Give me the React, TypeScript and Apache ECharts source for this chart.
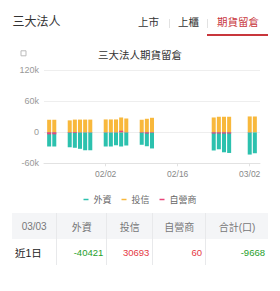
import React, { useEffect, useRef } from "react";
import * as echarts from "echarts";

// ---- data ----
const tradeDates = [
  "01/22", "01/23",
  "01/26", "01/27", "01/28", "01/29", "01/30",
  "02/02", "02/03", "02/04", "02/05", "02/06",
  "02/09", "02/10", "02/11",
  "02/23", "02/24", "02/25", "02/26",
  "03/02", "03/03",
];
const foreign = [
  -27500, -27500,
  -29000, -30000, -32000, -34800, -34800,
  -27500, -27500, -25100, -27500, -25500,
  -24200, -27000, -31300,
  -35200, -32900, -38700, -40000,
  -43100, -40421,
];
const trust = [
  24200, 24200,
  23000, 24500, 24500, 24500, 24500,
  24800, 24800, 24800, 28600, 26700,
  24200, 26100, 28000,
  28600, 30000, 30000, 30000,
  30600, 30693,
];
const dealer = [
  -4000, -4000,
  -1000, -1500, -500, 400, -500,
  -500, 400, -500, 3000, -500,
  -1000, -2500, -1000,
  -2500, -2500, -2500, -2500,
  -500, 60,
];
const seriesNames = ["外資", "投信", "自營商"];
const seriesColors = ["#2cc1ae", "#f8b83c", "#e8457a"];
const axisStart = "2026-01-21";
const axisEnd = "2026-03-04";
const tickLabels = ["02/02", "02/16", "03/02"];
const yTicks = { min: -60000, max: 120000, interval: 60000 };

const tableDate = "03/03";
const tableHeaders = ["外資", "投信", "自營商", "合計(口)"];
const tableRowLabel = "近1日";
const tableValues = [-40421, 30693, 60, -9668];

const FONT = '"Liberation Sans", "Noto Sans CJK TC", sans-serif';

function buildCalendar(start: string, end: string): string[] {
  const out: string[] = [];
  const d = new Date(start + "T00:00:00Z");
  const e = new Date(end + "T00:00:00Z");
  while (d.getTime() <= e.getTime()) {
    const mm = String(d.getUTCMonth() + 1).padStart(2, "0");
    const dd = String(d.getUTCDate()).padStart(2, "0");
    out.push(`${mm}/${dd}`);
    d.setUTCDate(d.getUTCDate() + 1);
  }
  return out;
}

function Chart() {
  const ref = useRef<HTMLDivElement>(null);
  useEffect(() => {
    if (!ref.current) return;
    const chart = echarts.init(ref.current, undefined, { renderer: "svg" });
    const calendar = buildCalendar(axisStart, axisEnd);
    const toSeries = (vals: number[]) =>
      calendar.map((c) => {
        const i = tradeDates.indexOf(c);
        return i >= 0 ? vals[i] : null;
      });
    const showTick = (_i: number, v: string) => tickLabels.includes(v);
    chart.setOption({
      animation: false,
      textStyle: { fontFamily: FONT },
      title: {
        text: "三大法人期貨留倉",
        left: "center",
        top: 5,
        textStyle: { fontSize: 10.5, fontWeight: "normal", color: "#333", fontFamily: FONT },
      },
      legend: {
        data: seriesNames,
        top: 150,
        left: "center",
        icon: "rect",
        itemWidth: 5,
        itemHeight: 1.5,
        itemGap: 10,
        textStyle: { fontSize: 9, color: "#666", fontFamily: FONT },
      },
      grid: { left: 44, right: 20, top: 30.2, height: 93.1 },
      xAxis: {
        type: "category",
        data: calendar,
        boundaryGap: false,
        axisLine: { onZero: false, lineStyle: { color: "#e2e2e2" } },
        axisTick: { interval: showTick, length: 3, lineStyle: { color: "#e2e2e2" } },
        axisLabel: { interval: showTick, color: "#888", fontSize: 8.5, margin: 6, fontFamily: FONT },
      },
      yAxis: {
        type: "value",
        min: yTicks.min,
        max: yTicks.max,
        interval: yTicks.interval,
        axisLabel: {
          color: "#999",
          fontSize: 9,
          margin: 5,
          fontFamily: FONT,
          formatter: (v: number) => (v === 0 ? "0" : `${v / 1000}k`),
        },
        splitLine: { lineStyle: { color: "#eeeeee" } },
      },
      graphic: [
        {
          type: "rect",
          left: 20.5,
          top: 10.3,
          shape: { width: 5, height: 5 },
          style: { fill: "#fff", stroke: "#bbb", lineWidth: 1 },
        },
      ],
      series: [foreign, trust, dealer].map((vals, k) => ({
        name: seriesNames[k],
        type: "bar",
        data: toSeries(vals),
        barWidth: 4,
        barGap: "-100%",
        itemStyle: { color: seriesColors[k] },
      })),
    });
    return () => chart.dispose();
  }, []);
  return <div ref={ref} style={{ position: "absolute", left: 0, top: 40, width: 280, height: 170 }} />;
}

const colEdges = [12, 57.3, 107.3, 153.3, 206, 268];
const green = "#25a02a";
const red = "#e5383f";

export default function App() {
  const cellStyle = (i: number, top: number, h: number): React.CSSProperties => ({
    position: "absolute",
    left: colEdges[i],
    top,
    width: colEdges[i + 1] - colEdges[i],
    height: h,
    boxSizing: "border-box",
    borderRight: i < 4 ? "1px solid #e8e9eb" : "none",
    display: "flex",
    alignItems: "center",
  });
  return (
    <div
      style={{
        position: "absolute",
        left: 0,
        top: 0,
        width: 280,
        height: 291,
        background: "#fff",
        fontFamily: FONT,
        overflow: "hidden",
      }}
    >
      {/* header */}
      <div style={{ position: "absolute", left: 12.5, top: 15, fontSize: 12, lineHeight: "15px", color: "#333" }}>三大法人</div>
      <div style={{ position: "absolute", left: 138, top: 16, fontSize: 10.5, lineHeight: "13px", color: "#333" }}>上市</div>
      <div style={{ position: "absolute", left: 168.5, top: 18.5, width: 1, height: 9, background: "#e2e2e2" }} />
      <div style={{ position: "absolute", left: 178, top: 16, fontSize: 10.5, lineHeight: "13px", color: "#333" }}>上櫃</div>
      <div style={{ position: "absolute", left: 207, top: 18.5, width: 1, height: 9, background: "#e2e2e2" }} />
      <div style={{ position: "absolute", left: 217, top: 16, fontSize: 10.5, lineHeight: "13px", color: "#c8363c" }}>期貨留倉</div>
      <div style={{ position: "absolute", left: 207, top: 34, width: 61, height: 2, background: "#c8363c" }} />

      <Chart />

      {/* table */}
      <div style={{ position: "absolute", left: 12, top: 213, width: 256, height: 26, background: "#f4f5f7" }} />
      <div style={{ ...cellStyle(0, 213, 26), justifyContent: "center", fontSize: 10, color: "#777", borderRight: "1px solid #e8e9eb" }}>{tableDate}</div>
      {tableHeaders.map((h, i) => (
        <div key={h} style={{ ...cellStyle(i + 1, 213, 26), justifyContent: "center", fontSize: 10, color: "#777" }}>
          {h}
        </div>
      ))}
      <div style={{ ...cellStyle(0, 239, 26), justifyContent: "flex-start", paddingLeft: 3, fontSize: 10.5, color: "#222" }}>{tableRowLabel}</div>
      {tableValues.map((v, i) => (
        <div
          key={i}
          style={{
            ...cellStyle(i + 1, 239, 26),
            justifyContent: "flex-end",
            paddingRight: 3,
            fontSize: 9.5,
            color: v < 0 ? green : red,
          }}
        >
          {String(v)}
        </div>
      ))}
    </div>
  );
}
